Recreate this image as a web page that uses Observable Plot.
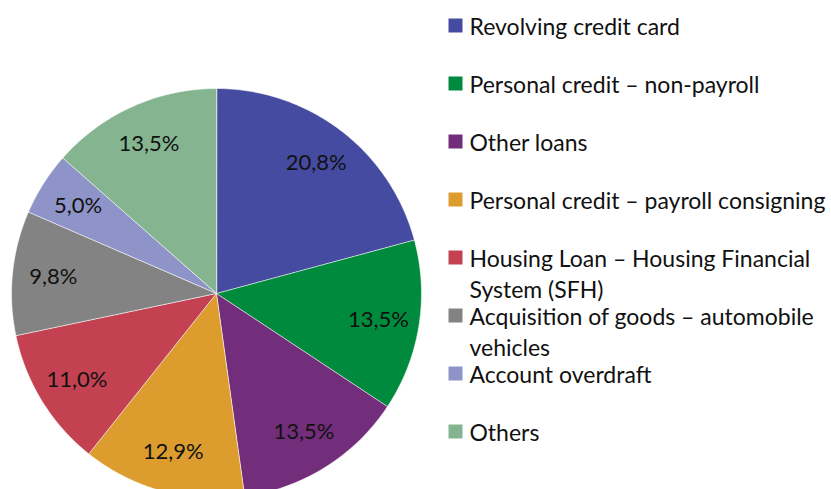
<!DOCTYPE html>
<html>
<head>
<meta charset="utf-8">
<script src="https://cdn.jsdelivr.net/npm/d3@7"></script>
<script src="https://cdn.jsdelivr.net/npm/@observablehq/plot@0.6"></script>
<style>
  html, body { margin: 0; padding: 0; background: #fff; }
  #chart { width: 831px; height: 489px; overflow: hidden; }
</style>
</head>
<body>
<div id="chart"></div>
<script>
const categories = [
  "Revolving credit card",
  "Personal credit – non-payroll",
  "Other loans",
  "Personal credit – payroll consigning",
  "Housing Loan – Housing Financial\nSystem (SFH)",
  "Acquisition of goods – automobile\nvehicles",
  "Account overdraft",
  "Others"
];
const shares = [20.8, 13.5, 13.5, 12.9, 11.0, 9.8, 5.0, 13.5];
const colors = ["#454BA0", "#008A3E", "#722E7B", "#DC9D2E", "#C44152", "#838383", "#8F94C8", "#85B590"];

const W = 831, H = 489;
const cx = 216, cy = 293, R = 205;
const labelR = 0.8;
const font = "Lato, 'Open Sans', sans-serif";

const fmt = d3.formatLocale({decimal: ",", thousands: ".", grouping: [3], currency: ["", ""]}).format(".1f");

const total = d3.sum(shares);
const slices = [];
let acc = 0;
shares.forEach((v, i) => {
  const a0 = acc / total * 2 * Math.PI;
  acc += v;
  const a1 = acc / total * 2 * Math.PI;
  slices.push({i, cat: categories[i], value: v, a0, a1, mid: (a0 + a1) / 2});
});

// polygon points per slice (unit circle coordinates, clockwise from top)
const polyPts = [];
for (const s of slices) {
  polyPts.push({i: s.i, x: 0, y: 0});
  const n = Math.max(8, Math.ceil((s.a1 - s.a0) / (Math.PI / 180)));
  for (let k = 0; k <= n; ++k) {
    const a = s.a0 + (s.a1 - s.a0) * k / n;
    polyPts.push({i: s.i, x: Math.sin(a), y: Math.cos(a)});
  }
}

const labels = slices.map(s => ({
  text: fmt(s.value) + "%",
  x: labelR * Math.sin(s.mid),
  y: labelR * Math.cos(s.mid)
}));

// legend laid out in unit coordinates relative to the chart frame
const legend = categories.map((c, i) => ({i, label: c}));
const legX = 455, legTextX = 469, legY0 = 25, legStep = 58;
const toUX = px => (px - cx) / R;
const toUY = py => (cy - py) / R;

const plot = Plot.plot({
  width: W,
  height: H,
  margin: 0,
  x: {domain: [toUX(0), toUX(W)], range: [0, W], axis: null},
  y: {domain: [toUY(H), toUY(0)], range: [H, 0], axis: null},
  color: {domain: d3.range(categories.length), range: colors},
  style: {fontFamily: font, background: "white"},
  marks: [
    Plot.line(polyPts, {
      x: "x", y: "y", z: "i", fill: "i", stroke: "white", strokeWidth: 0.6,
      curve: "linear-closed"
    }),
    Plot.text(labels, {
      x: "x", y: "y", text: "text", fontSize: 22, fill: "#111",
      textAnchor: "middle", lineAnchor: "middle"
    }),
    Plot.dot(legend, {
      x: () => toUX(legX), y: d => toUY(legY0 + d.i * legStep),
      symbol: "square", r: 14 / Math.sqrt(Math.PI), fill: "i", stroke: null
    }),
    Plot.text(legend, {
      x: () => toUX(legTextX), y: d => toUY(legY0 + d.i * legStep - 12.5),
      text: "label", textAnchor: "start", lineAnchor: "top",
      fontSize: 23, lineHeight: 1.34, fill: "#111"
    })
  ]
});
document.getElementById("chart").appendChild(plot);
</script>
</body>
</html>
